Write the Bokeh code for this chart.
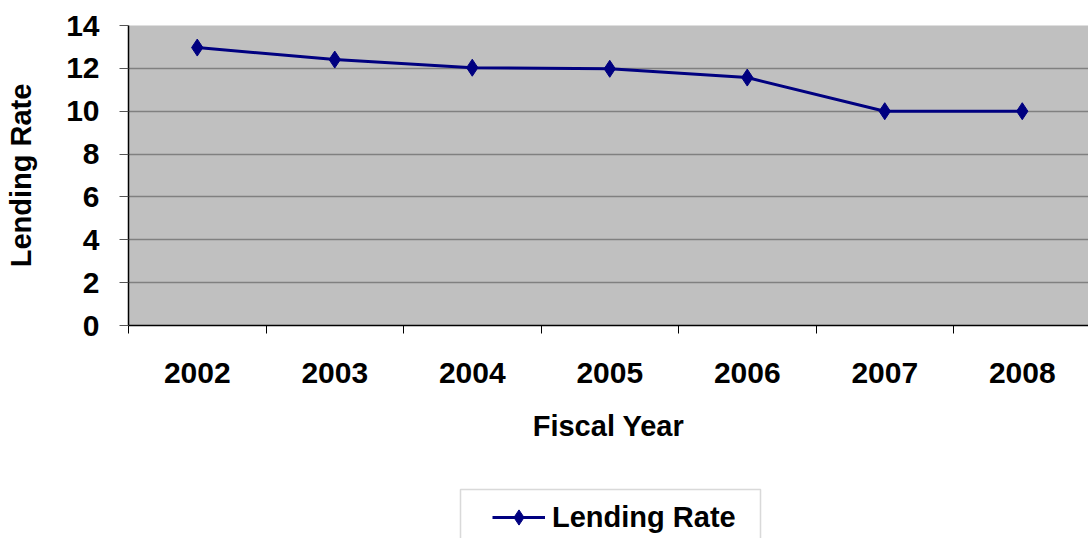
from bokeh.plotting import figure
from bokeh.models import Range1d, FixedTicker, Legend, LegendItem, ColumnDataSource, BoxAnnotation
from bokeh.layouts import column
from bokeh.embed import file_html
from bokeh.resources import INLINE

years = ["2002", "2003", "2004", "2005", "2006", "2007", "2008"]
lending_rate = [12.97, 12.41, 12.03, 11.98, 11.57, 10.0, 10.0]
y_ticks = [0, 2, 4, 6, 8, 10, 12, 14]

xpos = [i + 0.5 for i in range(len(years))]
src = ColumnDataSource(dict(x=xpos, y=lending_rate))

FONT = "Liberation Sans"
NAVY = "#000080"

p = figure(width=1088, height=470, output_backend="svg", toolbar_location=None,
           x_range=Range1d(0, 960 / 137.5), y_range=Range1d(0, 14),
           min_border_left=128, min_border_right=0, min_border_top=25, min_border_bottom=145)
p.background_fill_color = "#C0C0C0"
p.border_fill_color = "white"
p.outline_line_color = None

# y axis
p.yaxis.ticker = FixedTicker(ticks=y_ticks)
p.yaxis.axis_line_color = "black"
p.yaxis.axis_line_width = 1.5
p.yaxis.major_tick_line_color = "#555555"
p.yaxis.major_tick_out = 9
p.yaxis.major_tick_in = 0
p.yaxis.minor_tick_line_color = None
p.yaxis.major_label_text_font = FONT
p.yaxis.major_label_text_font_style = "bold"
p.yaxis.major_label_text_font_size = "30px"
p.yaxis.major_label_text_color = "black"
p.yaxis.major_label_standoff = 20
p.yaxis.axis_label = "Lending Rate"
p.yaxis.axis_label_text_font = FONT
p.yaxis.axis_label_text_font_style = "bold"
p.yaxis.axis_label_text_font_size = "29px"
p.yaxis.axis_label_text_color = "black"
p.yaxis.axis_label_standoff = 26

# x axis
p.xaxis.ticker = FixedTicker(ticks=xpos, minor_ticks=list(range(len(years) + 1)))
p.xaxis.major_label_overrides = {x: y for x, y in zip(xpos, years)}
p.xaxis.axis_line_color = "black"
p.xaxis.axis_line_width = 1.5
p.xaxis.major_tick_line_color = None
p.xaxis.major_tick_out = 0
p.xaxis.major_tick_in = 0
p.xaxis.minor_tick_line_color = "black"
p.xaxis.minor_tick_out = 8
p.xaxis.minor_tick_in = 0
p.xaxis.major_label_text_font = FONT
p.xaxis.major_label_text_font_style = "bold"
p.xaxis.major_label_text_font_size = "30px"
p.xaxis.major_label_text_color = "black"
p.xaxis.major_label_standoff = 29
p.xaxis.axis_label = "Fiscal Year"
p.xaxis.axis_label_text_font = FONT
p.xaxis.axis_label_text_font_style = "bold"
p.xaxis.axis_label_text_font_size = "29px"
p.xaxis.axis_label_text_color = "black"
p.xaxis.axis_label_standoff = 24

p.xgrid.grid_line_color = None
p.ygrid.ticker = FixedTicker(ticks=y_ticks)
p.ygrid.grid_line_color = "#808080"
p.ygrid.grid_line_width = 1.5

p.line("x", "y", source=src, line_color=NAVY, line_width=3)
p.scatter("x", "y", source=src, marker="diamond", size=17, fill_color=NAVY, line_color=NAVY)

# legend strip below the chart (its frame is aligned with the chart frame: x 128..1088)
p2 = figure(width=1088, height=68, output_backend="svg", toolbar_location=None,
            x_range=Range1d(128, 1088), y_range=Range1d(0, 68),
            min_border_left=128, min_border_right=0, min_border_top=0, min_border_bottom=0)
p2.axis.visible = False
p2.grid.visible = False
p2.outline_line_color = None
p2.background_fill_color = "white"
p2.border_fill_color = "white"

box = BoxAnnotation(left=460, right=760, top=49, bottom=-10,
                    fill_color="white", fill_alpha=1, line_color="#808080", line_width=1.5)
p2.add_layout(box)

nan = float("nan")
ln2 = p2.line(x=[nan], y=[nan], line_color=NAVY, line_width=3)
mk2 = p2.scatter(x=[nan], y=[nan], marker="diamond", size=15, fill_color=NAVY, line_color=NAVY)

legend = Legend(items=[LegendItem(label="Lending Rate", renderers=[ln2, mk2])],
                location=(492 - 128, 2), orientation="horizontal",
                label_text_font=FONT, label_text_font_style="bold", label_text_font_size="29px",
                label_text_color="black", glyph_width=53, glyph_height=38, label_standoff=7,
                padding=0, margin=0, spacing=0,
                border_line_color=None, background_fill_alpha=0)
p2.add_layout(legend, "center")

open("out.html", "w").write(file_html(column(p, p2, spacing=0), INLINE))
